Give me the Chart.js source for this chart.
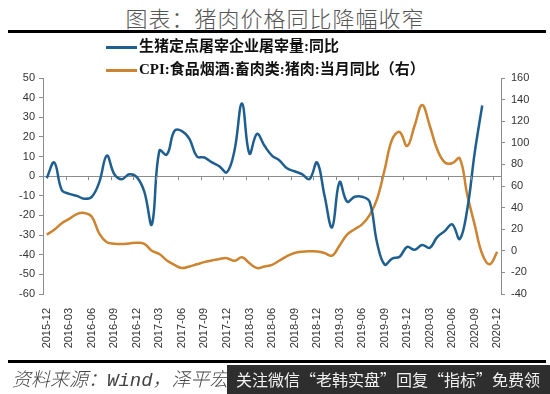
<!DOCTYPE html>
<html>
<head>
<meta charset="utf-8">
<script src="https://cdn.jsdelivr.net/npm/chart.js@4.4.1/dist/chart.umd.min.js"></script>
<style>
    body { margin: 0; width: 550px; height: 394px; position: relative; background: #fff; overflow: hidden; }
    #chart-box { position: absolute; left: 0; top: 0; width: 550px; height: 394px; }
    .rule { position: absolute; left: 8px; width: 538px; height: 3px; background: #000; }
    #title { position: absolute; top: 1px; left: 0; width: 550px; text-align: center; font-family: "Noto Sans CJK SC"; font-weight: 300; font-size: 22px; color: #555; letter-spacing: 1px; }
    .leg { position: absolute; left: 106px; font-family: "Liberation Serif", "Noto Sans CJK SC"; font-weight: bold; font-size: 15px; color: #111; white-space: nowrap; }
    .leg span { display: inline-block; width: 31px; height: 2.5px; vertical-align: middle; margin-right: 2px; }
    #source { position: absolute; left: 12px; top: 364px; font-family: "Liberation Mono", "Noto Sans CJK SC"; font-style: italic; font-weight: 300; font-size: 19px; color: #444; white-space: nowrap; }
    #wm { position: absolute; left: 227px; top: 365px; width: 323px; height: 29px; background: #2e2e2e; color: #f2f2f2; font-family: "Noto Sans CJK SC"; font-size: 16px; line-height: 29px; padding-left: 9px; box-sizing: border-box; white-space: nowrap; }
</style>
</head>
<body>
<div id="title">图表：猪肉价格同比降幅收窄</div>
<div class="rule" style="top:30px;"></div>
<div id="chart-box"><canvas id="myChart" width="550" height="394"></canvas></div>
<div class="leg" style="top:34px;"><span style="background:#1f5f8f;"></span>生猪定点屠宰企业屠宰量:同比</div>
<div class="leg" style="top:57px;"><span style="background:#cc8431;"></span>CPI:食品烟酒:畜肉类:猪肉:当月同比（右）</div>
<div class="rule" style="top:360px;"></div>
<div id="source">资料来源：Wind，泽平宏观</div>
<div id="wm">关注微信“老韩实盘”回复“指标”免费领</div>
<script>
let chart;

// months 2015-12 .. 2020-12
let months = [];
for (let y = 2015, m = 12; months.length < 61; ) {
    months.push(y + '-' + String(m).padStart(2, '0'));
    m++;
    if (m > 12) { m = 1; y++; }
}

// 生猪定点屠宰企业屠宰量:同比 (left axis, %)
let slaughter_yoy = [-1, 7, -7, -9, -10, -11.5, -10.5, -3, 10.5, 1,
    -1.5, 1, -0.5, -8, -24.5, 13, 11, 23, 23, 19,
    10, 9.5, 7, 5, 2, 13, 37, 11.5, 21.5, 15.5,
    10.5, 8, 4, 2.5, 1, -1.5, 7, -10, -26, -3,
    -13, -10.5, -10.5, -13, -34, -45, -42, -41, -36, -37.5,
    -35, -36.5, -31, -28, -24.5, -32, -17, 12, 36];

// CPI:食品烟酒:畜肉类:猪肉:当月同比 (right axis, %)
let pork_cpi_yoy = [15, 19.5, 25.5, 29.5, 34, 35, 31.5, 16, 8, 6.5,
    6.2, 6.8, 7.5, 6.5, 0, -3, -9, -13, -16, -14.5,
    -12.5, -10.5, -9, -7.5, -6.8, -9.3, -6, -11.5, -16, -14.5,
    -13, -9, -5, -2, -0.8, -0.5, -0.6, -2, -4.5, 5,
    15, 20, 24.5, 33, 48, 75, 103, 110, 97, 116,
    135, 116, 94, 82, 81, 85.7, 52, 24, -3, -12.5, -1];

let left_ticks = { min: -60, max: 50, step: 10 };
let right_ticks = { min: -40, max: 160, step: 20 };

// small tick marks on the zero line, every 3 months (between categories)
const zeroTicks = {
    id: 'zeroTicks',
    afterDatasetsDraw(c) {
        let xs = c.scales.x;
        let y0 = c.scales.y.getPixelForValue(0);
        let half = (xs.getPixelForValue(1) - xs.getPixelForValue(0)) / 2;
        let g = c.ctx;
        g.save();
        g.strokeStyle = '#8c8c8c';
        g.lineWidth = 1;
        g.beginPath();
        for (let i = 3; i < months.length; i += 3) {
            let px = Math.round(xs.getPixelForValue(i) - half) + 0.5;
            g.moveTo(px, y0);
            g.lineTo(px, y0 + 4);
        }
        g.stroke();
        g.restore();
    }
};

function draw_chart() {
    let ctx = document.getElementById('myChart');
    if (typeof chart != 'undefined') {
        chart.destroy();
    }
    let tickFont = { family: 'Liberation Sans', size: 11 };
    chart = new Chart(ctx, {
        type: 'line',
        data: {
            labels: months,
            datasets: [
                {
                    label: '生猪定点屠宰企业屠宰量:同比',
                    data: slaughter_yoy,
                    borderColor: '#1f5f8f',
                    borderWidth: 2.5,
                    pointRadius: 0,
                    tension: 0.4,
                    fill: false,
                    yAxisID: 'y'
                },
                {
                    label: 'CPI:食品烟酒:畜肉类:猪肉:当月同比（右）',
                    data: pork_cpi_yoy,
                    borderColor: '#cc8431',
                    borderWidth: 2.5,
                    pointRadius: 0,
                    tension: 0.4,
                    fill: false,
                    yAxisID: 'y1'
                }
            ]
        },
        options: {
            responsive: false,
            animation: false,
            devicePixelRatio: 1,
            layout: { padding: { top: 78, left: 0, right: 0, bottom: 0 } },
            scales: {
                x: {
                    offset: true,
                    grid: { display: false },
                    border: { display: false },
                    ticks: {
                        autoSkip: false,
                        maxRotation: 90,
                        minRotation: 90,
                        padding: 6,
                        color: '#333',
                        font: tickFont,
                        callback: function (v, i) { return i % 3 === 0 ? months[i] : ''; }
                    },
                    afterFit: function (s) { s.height = 100; }
                },
                y: {
                    position: 'left',
                    min: left_ticks.min,
                    max: left_ticks.max,
                    ticks: { stepSize: left_ticks.step, color: '#333', font: tickFont, padding: 4 },
                    grid: {
                        drawOnChartArea: true,
                        color: (c) => c.tick && c.tick.value === 0 ? '#8c8c8c' : 'rgba(0,0,0,0)',
                        tickColor: '#8c8c8c',
                        tickLength: 4
                    },
                    border: { color: '#8c8c8c' },
                    afterFit: function (s) { s.width = 43; }
                },
                y1: {
                    position: 'right',
                    min: right_ticks.min,
                    max: right_ticks.max,
                    ticks: { stepSize: right_ticks.step, color: '#333', font: tickFont, padding: 6 },
                    grid: { drawOnChartArea: false, tickColor: '#8c8c8c', tickLength: 4 },
                    border: { color: '#8c8c8c' },
                    afterFit: function (s) { s.width = 49; }
                }
            },
            plugins: {
                legend: { display: false },
                tooltip: { enabled: false },
                title: { display: false }
            }
        },
        plugins: [zeroTicks]
    });
}
draw_chart();
</script>
</body>
</html>
